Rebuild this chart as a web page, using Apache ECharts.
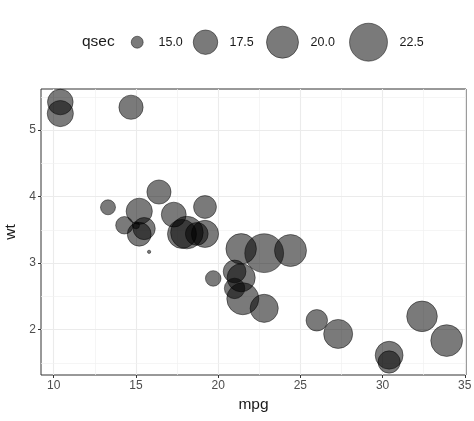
<!DOCTYPE html>
<html><head><meta charset="utf-8">
<script src="https://cdn.jsdelivr.net/npm/echarts@6/dist/echarts.min.js"></script>
<style>html,body{margin:0;padding:0;background:#fff}#c{width:474px;height:421px}</style>
</head><body><div id="c"></div>
<script>
const mpg = [21.0,21.0,22.8,21.4,18.7,18.1,14.3,24.4,22.8,19.2,17.8,16.4,17.3,15.2,10.4,10.4,14.7,32.4,30.4,33.9,21.5,15.5,15.2,13.3,19.2,27.3,26.0,30.4,15.8,19.7,15.0,21.4];
const wt = [2.620,2.875,2.320,3.215,3.440,3.460,3.570,3.190,3.150,3.440,3.440,4.070,3.730,3.780,5.250,5.424,5.345,2.200,1.615,1.835,2.465,3.520,3.435,3.840,3.845,1.935,2.140,1.513,3.170,2.770,3.570,2.780];
const qsec = [16.46,17.02,18.61,19.44,17.02,20.22,15.84,20.00,22.90,18.30,18.90,17.40,17.60,18.00,17.98,17.82,17.42,19.47,18.52,19.90,20.01,16.87,17.30,15.41,17.05,18.90,16.70,16.90,14.50,15.50,14.60,18.60];
const xTicks = [10,15,20,25,30,35];
const xMinor = [12.5,17.5,22.5,27.5,32.5];
const yTicks = [2,3,4,5];
const yMinor = [1.5,2.5,3.5,4.5,5.5];
const legendBreaks = [15,17.5,20,22.5];
const legendLabels = ['15.0','17.5','20.0','22.5'];

const FONT = 'Liberation Sans, Arial, Helvetica, sans-serif';
const qMin = Math.min(...qsec), qMax = Math.max(...qsec);
function sizeOf(q){ return 3.3 + 35.5*Math.sqrt(Math.max(0,(q-qMin)/(qMax-qMin))); }
const xMinV = 9.225, xMaxV = 35.075, yMinV = 1.3175, yMaxV = 5.6195;

const pts = mpg.map((m,i)=>[m, wt[i], qsec[i]]);
const ptStyle = {color:'rgba(0,0,0,0.52)', borderColor:'rgba(0,0,0,0.45)', borderWidth:1, opacity:1};

const gridLines = [];
xTicks.forEach(v=>gridLines.push({xAxis:v, lineStyle:{color:'#ebebeb', width:1.1, type:'solid'}}));
xMinor.forEach(v=>gridLines.push({xAxis:v, lineStyle:{color:'#f0f0f0', width:0.7, type:'solid'}}));
yTicks.forEach(v=>gridLines.push({yAxis:v, lineStyle:{color:'#ebebeb', width:1.1, type:'solid'}}));
yMinor.forEach(v=>gridLines.push({yAxis:v, lineStyle:{color:'#f0f0f0', width:0.7, type:'solid'}}));

const centers = [136.7,205,282,368];
const textGaps = [15.3,11.7,12,12];
const legendY = 41.7;
const legends = legendBreaks.map((b,i)=>{
  const d = sizeOf(b);
  return {
    data:[legendLabels[i]], left: centers[i]-d/2, top: legendY-d/2, padding:0,
    itemWidth:d, itemHeight:d, icon:'circle', selectedMode:false,
    itemStyle:{color:'rgba(0,0,0,0.52)', borderColor:'rgba(0,0,0,0.45)', borderWidth:1},
    textStyle:{fontFamily:FONT, fontSize:12.5, color:'#1a1a1a', padding:[0,0,0,textGaps[i]-5]}
  };
});

const series = [{
  type:'scatter', name:'grid', data:[], z:1, silent:true,
  markLine:{silent:true, z:1, symbol:'none', label:{show:false}, animation:false, lineStyle:{type:'solid'}, data:gridLines}
},{
  type:'scatter', name:'cars', data:pts, z:10,
  symbolSize:(v)=>sizeOf(v[2]), itemStyle:ptStyle
}];
legendLabels.forEach(l=>series.push({type:'scatter', name:l, data:[], itemStyle:ptStyle}));

const chart = echarts.init(document.getElementById('c'), null, {renderer:'canvas'});
chart.setOption({
  animation:false,
  backgroundColor:'#ffffff',
  title:{text:'qsec', left:82, top:legendY-8, padding:0, textStyle:{fontFamily:FONT, fontSize:15.5, fontWeight:'normal', color:'#1a1a1a'}},
  legend: legends,
  grid:{left:41, right:8, top:89, bottom:46, show:true, borderColor:'#333333', borderWidth:1, backgroundColor:'#ffffff', containLabel:false, outerBoundsMode:'none'},
  xAxis:{type:'value', min:xMinV, max:xMaxV, name:'mpg', nameLocation:'middle', nameGap:22,
    nameTextStyle:{fontFamily:FONT, fontSize:15.5, color:'#1a1a1a'},
    axisLine:{show:false}, splitLine:{show:false},
    axisTick:{show:true, length:3, lineStyle:{color:'#333333'}, customValues:xTicks},
    axisLabel:{customValues:xTicks, fontFamily:FONT, fontSize:12, color:'#4d4d4d', margin:5}},
  yAxis:{type:'value', min:yMinV, max:yMaxV, name:'wt', nameLocation:'middle', nameGap:20, nameRotate:90,
    nameTextStyle:{fontFamily:FONT, fontSize:15.5, color:'#1a1a1a'},
    axisLine:{show:false}, splitLine:{show:false},
    axisTick:{show:true, length:3, lineStyle:{color:'#333333'}, customValues:yTicks},
    axisLabel:{customValues:yTicks, fontFamily:FONT, fontSize:12, color:'#4d4d4d', margin:5}},
  series: series
});
</script></body></html>
